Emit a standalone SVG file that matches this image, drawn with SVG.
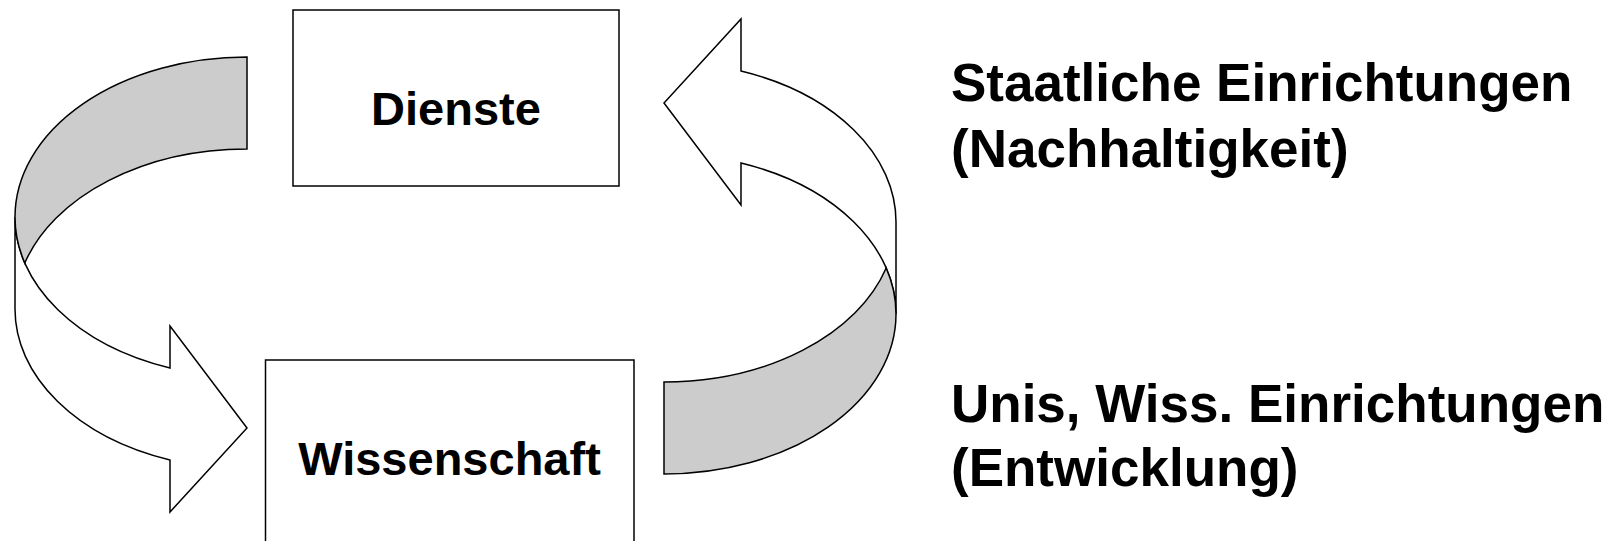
<svg xmlns="http://www.w3.org/2000/svg" width="1614" height="541" viewBox="0 0 1614 541">
<style>
.box{fill:#fff;stroke:#000;stroke-width:1.5}
.lbl{font-family:"Liberation Sans",Arial,sans-serif;font-weight:bold;fill:#000}
.front{fill:#fff;stroke:#000;stroke-width:1.5;stroke-linejoin:miter}
.back{fill:#cccccc;stroke:#000;stroke-width:1.5}
</style>
<defs>
<g id="curvedArrow">
<path class="front" d="M15,217 L15,309 A232 160 0 0 0 170,460 L170,512 L247,428 L170,326 L170,368 A232 160 0 0 1 15,217 Z"/>
<path class="back" d="M247,57 A232 160 0 0 0 15,217 A232 160 0 0 0 24.8,263 A232 160 0 0 1 247,149 Z"/>
</g>
</defs>
<g id="connectors">
<use href="#curvedArrow"/>
<use href="#curvedArrow" transform="rotate(180 455.5 265.5)"/>
</g>
<g id="node-dienste">
<rect class="box" x="293" y="10" width="326" height="176"/>
<text class="lbl" x="456" y="125" font-size="47" text-anchor="middle">Dienste</text>
</g>
<g id="node-wissenschaft">
<rect class="box" x="265.5" y="360" width="368.5" height="200"/>
<text class="lbl" x="449.5" y="475" font-size="47" text-anchor="middle">Wissenschaft</text>
</g>
<g id="label-staatlich">
<text class="lbl" x="951" y="101" font-size="53">Staatliche Einrichtungen</text>
<text class="lbl" x="951" y="167" font-size="53">(Nachhaltigkeit)</text>
</g>
<g id="label-unis">
<text class="lbl" x="951" y="422" font-size="53">Unis, Wiss. Einrichtungen</text>
<text class="lbl" x="951" y="486" font-size="53">(Entwicklung)</text>
</g>
</svg>
